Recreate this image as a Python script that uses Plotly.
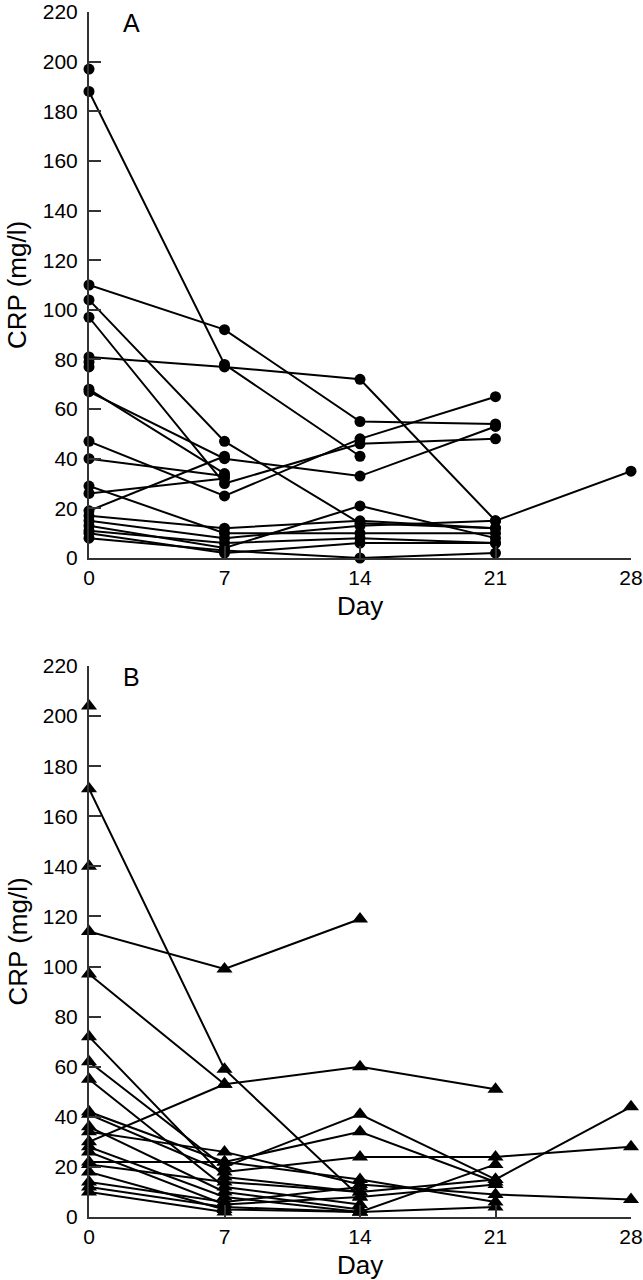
import plotly.graph_objects as go

days = [0, 7, 14, 21, 28]
day_ticks = [0, 7, 14, 21, 28]
crp_ticks = [0, 20, 40, 60, 80, 100, 120, 140, 160, 180, 200, 220]

# Panel A: CRP (mg/l) per patient at days 0, 7, 14, 21, 28 (None = not measured)
panel_a = [
    [197, None, None, None, None],
    [188, 78, 41, None, None],
    [110, 92, 55, 54, None],
    [104, 47, 14, 12, None],
    [97, 30, 46, 48, None],
    [81, 77, 72, 15, 35],
    [79, None, None, None, None],
    [77, None, None, None, None],
    [68, 34, None, None, None],
    [67, 40, 33, 53, None],
    [47, 25, 48, 65, None],
    [40, 33, None, None, None],
    [29, 10, 10, 10, None],
    [26, 32, None, None, None],
    [19, 41, None, None, None],
    [17, 12, 15, 12, None],
    [15, 8, 13, 15, None],
    [13, 4, 21, 8, None],
    [11, 6, 8, 6, None],
    [10, 2, 6, 6, None],
    [8, 3, 0, 2, None],
]

# Panel B
panel_b = [
    [204, None, None, None, None],
    [171, 59, 8, 13, None],
    [140, None, None, None, None],
    [114, 99, 119, None, None],
    [97, 53, 60, 51, None],
    [72, 16, 10, 15, 44],
    [62, 20, 41, 15, None],
    [55, 12, 5, None, None],
    [42, 22, 34, 14, None],
    [41, 18, 24, 24, 28],
    [36, 10, 3, None, None],
    [34, 26, 13, 9, 7],
    [30, 53, None, None, None],
    [28, 8, 2, 21, None],
    [26, 5, 8, None, None],
    [22, 22, 15, 6, None],
    [21, 14, 10, None, None],
    [18, 3, 2, 4, None],
    [14, 6, 12, None, None],
    [12, 4, 2, None, None],
    [10, 2, None, None, None],
]

panel_labels = ["A", "B"]
y_title = "CRP (mg/l)"
x_title = "Day"

fig = go.Figure()

for series in panel_a:
    fig.add_trace(go.Scatter(
        x=days, y=series, mode="lines+markers", xaxis="x", yaxis="y",
        line=dict(color="black", width=2),
        marker=dict(symbol="circle", size=11, color="black"),
        cliponaxis=False, showlegend=False, connectgaps=False))

for series in panel_b:
    fig.add_trace(go.Scatter(
        x=days, y=series, mode="lines+markers", xaxis="x2", yaxis="y2",
        line=dict(color="black", width=2),
        marker=dict(symbol="triangle-up", size=14, color="black"),
        cliponaxis=False, showlegend=False, connectgaps=False))

FONT = "Liberation Sans, Arial, sans-serif"
axis_common = dict(
    showline=True, linecolor="#333", linewidth=2, mirror=False, automargin=False,
    showgrid=False, zeroline=False, ticks="inside", tickcolor="#333",
    tickwidth=1.5, ticklen=12, ticklabeloverflow="allow",
    tickfont=dict(family=FONT, size=21, color="black"),
)

H = 1280
t, b = 12, 63
plot_h = H - t - b
a_bottom = 1 - (558 - t) / plot_h
b_top = (1217 - 666) / plot_h

fig.update_layout(
    width=643, height=H,
    margin=dict(l=89, r=12, t=t, b=b),
    paper_bgcolor="white", plot_bgcolor="white",
    font=dict(family=FONT, color="black"),
    xaxis=dict(domain=[0, 1], anchor="y", range=[0, 28], tickvals=day_ticks,
               ticklabelstandoff=0, **axis_common),
    yaxis=dict(domain=[a_bottom, 1], anchor="x", range=[0, 220], tickvals=crp_ticks,
               ticklabelstandoff=5, **axis_common),
    xaxis2=dict(domain=[0, 1], anchor="y2", range=[0, 28], tickvals=day_ticks,
                ticklabelstandoff=0, **axis_common),
    yaxis2=dict(domain=[0, b_top], anchor="x2", range=[0, 220], tickvals=crp_ticks,
                ticklabelstandoff=5, **axis_common),
)

for lab, xr, yr in [(panel_labels[0], "x", "y"), (panel_labels[1], "x2", "y2")]:
    fig.add_annotation(text=lab, xref=xr + " domain", yref=yr + " domain", x=0, y=1,
                       xshift=42, yshift=-11, xanchor="center", yanchor="middle",
                       showarrow=False, font=dict(family=FONT, size=25, color="black"))
    fig.add_annotation(text=y_title, xref="paper", yref=yr + " domain", x=0, y=0.5,
                       xshift=-72, textangle=-90, xanchor="center", yanchor="middle",
                       showarrow=False, font=dict(family=FONT, size=26, color="black"))
    fig.add_annotation(text=x_title, xref=xr, yref=yr + " domain", x=14, y=0,
                       yshift=-48, xanchor="center", yanchor="middle",
                       showarrow=False, font=dict(family=FONT, size=26, color="black"))

fig.write_html(
    "out.html",
    config={"displayModeBar": False},
    post_script="document.body.style.margin='0';document.body.style.overflow='hidden';",
)
